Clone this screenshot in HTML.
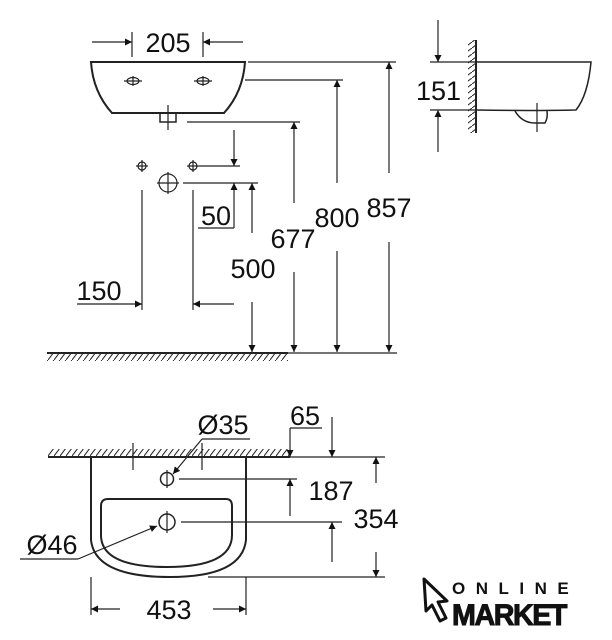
<!DOCTYPE html>
<html><head><meta charset="utf-8"><style>
html,body{margin:0;padding:0;background:#fff;}
svg{display:block;}
text{font-family:"Liberation Sans",sans-serif;fill:#111;}
</style></head><body>
<svg width="612" height="640" viewBox="0 0 612 640" xmlns="http://www.w3.org/2000/svg">
<defs>
<pattern id="hd" width="6" height="8" patternUnits="userSpaceOnUse">
<line x1="0" y1="8" x2="6" y2="0" stroke="#222" stroke-width="1"/>
</pattern>
<pattern id="hv" width="8" height="6" patternUnits="userSpaceOnUse">
<line x1="0" y1="6" x2="8" y2="0" stroke="#222" stroke-width="1"/>
</pattern>
<marker id="a" viewBox="0 0 10 10" refX="10" refY="5" markerWidth="14" markerHeight="7" markerUnits="userSpaceOnUse" orient="auto">
<path d="M0,0 L10,5 L0,10 Z" fill="#111"/>
</marker>
<marker id="b" viewBox="0 0 10 10" refX="10" refY="5" markerWidth="16" markerHeight="7" markerUnits="userSpaceOnUse" orient="auto">
<path d="M0,0 L10,5 L0,10 Z" fill="#111"/>
</marker>
</defs>
<g stroke="#222" stroke-width="1.2" fill="none">
<path d="M91,62 L245,62 Q243,92 224,113 L112,113 Q93,92 91,62 Z" stroke-width="2"/>
<ellipse cx="133" cy="81" rx="6" ry="3.5"/><line x1="124" y1="81" x2="142" y2="81"/><line x1="133" y1="76" x2="133" y2="86"/>
<ellipse cx="203" cy="81" rx="6" ry="3.5"/><line x1="194" y1="81" x2="212" y2="81"/><line x1="203" y1="76" x2="203" y2="86"/>
<rect x="160" y="113" width="16" height="9" stroke-width="1.5"/>
<line x1="168" y1="105" x2="168" y2="130"/>
<line x1="132" y1="32" x2="132" y2="57"/><line x1="203" y1="32" x2="203" y2="57"/>
<line x1="92" y1="42" x2="132" y2="42" marker-end="url(#b)"/>
<line x1="243" y1="42" x2="203" y2="42" marker-end="url(#b)"/>
<line x1="248" y1="62" x2="396" y2="62"/>
<line x1="245" y1="80" x2="343" y2="80"/>
<line x1="187" y1="122" x2="300" y2="122"/>
<line x1="389" y1="173" x2="389" y2="62" marker-end="url(#a)"/>
<line x1="389" y1="242" x2="389" y2="352" marker-end="url(#a)"/>
<line x1="337" y1="183" x2="337" y2="80" marker-end="url(#a)"/>
<line x1="337" y1="251" x2="337" y2="352" marker-end="url(#a)"/>
<line x1="294" y1="203" x2="294" y2="122" marker-end="url(#a)"/>
<line x1="294" y1="272" x2="294" y2="352" marker-end="url(#a)"/>
<line x1="252" y1="233" x2="252" y2="183" marker-end="url(#a)"/>
<line x1="252" y1="302" x2="252" y2="352" marker-end="url(#a)"/>
<circle cx="142" cy="166" r="4"/><line x1="136" y1="166" x2="148" y2="166"/><line x1="142" y1="160" x2="142" y2="172"/>
<circle cx="193" cy="166" r="4"/><line x1="187" y1="166" x2="199" y2="166"/><line x1="193" y1="160" x2="193" y2="172"/>
<circle cx="168" cy="183" r="9"/><line x1="157" y1="183" x2="179" y2="183"/><line x1="168" y1="172" x2="168" y2="194"/>
<line x1="199" y1="166" x2="240" y2="166"/>
<line x1="183" y1="183" x2="258" y2="183"/>
<line x1="234" y1="130" x2="234" y2="166" marker-end="url(#a)"/>
<line x1="234" y1="228" x2="234" y2="183" marker-end="url(#a)"/>
<line x1="198" y1="228" x2="234" y2="228"/>
<line x1="142" y1="190" x2="142" y2="310"/><line x1="193" y1="190" x2="193" y2="310"/>
<line x1="77" y1="304" x2="142" y2="304" marker-end="url(#b)"/>
<line x1="234" y1="304" x2="193" y2="304" marker-end="url(#b)"/>
<line x1="47" y1="353" x2="288" y2="353" stroke-width="2"/>
<line x1="288" y1="353" x2="397" y2="353"/>
<rect x="47" y="354" width="241" height="7" fill="url(#hd)" stroke="none"/>
<line x1="476" y1="40" x2="476" y2="133" stroke-width="2"/>
<rect x="468" y="40" width="8" height="93" fill="url(#hv)" stroke="none"/>
<path d="M476,62 L591,62 Q588,95 576,110 Q530,111 476,110" stroke-width="1.5"/>
<path d="M515,111 Q522,123 535,123 L545,123 Q548,118 547,111" stroke-width="1.5"/>
<line x1="537" y1="103" x2="537" y2="132"/>
<line x1="430" y1="62" x2="476" y2="62"/><line x1="430" y1="110" x2="476" y2="110"/>
<line x1="438" y1="20" x2="438" y2="62" marker-end="url(#a)"/>
<line x1="438" y1="152" x2="438" y2="110" marker-end="url(#a)"/>
<line x1="48" y1="457" x2="290" y2="457" stroke-width="2"/>
<rect x="48" y="449" width="242" height="7" fill="url(#hd)" stroke="none"/>
<line x1="290" y1="457" x2="385" y2="457"/>
<path d="M91,457 L91,540 Q95,577 170,577 Q242,577 246,540 L246,457" stroke-width="2"/>
<path d="M108,499 L226,499 Q232,499 232,506 L232,535 Q232,567 167,567 Q101,567 101,535 L101,506 Q101,499 108,499 Z" stroke-width="2"/>
<line x1="133" y1="443" x2="133" y2="470"/><line x1="202" y1="443" x2="202" y2="470"/>
<circle cx="167" cy="479" r="6.5" stroke-width="1.5"/><line x1="167" y1="470" x2="167" y2="488"/>
<circle cx="167" cy="522" r="8" stroke-width="1.5"/><line x1="167" y1="511" x2="167" y2="533"/>
<line x1="179" y1="479" x2="297" y2="479"/>
<line x1="181" y1="522" x2="342" y2="522"/>
<line x1="208" y1="577" x2="385" y2="577"/>
<line x1="250" y1="439" x2="202" y2="439"/><line x1="202" y1="439" x2="173" y2="474" marker-end="url(#a)"/>
<line x1="20" y1="559" x2="78" y2="559"/><line x1="78" y1="559" x2="157" y2="526" marker-end="url(#a)"/>
<line x1="290" y1="428" x2="322" y2="428"/>
<line x1="290" y1="428" x2="290" y2="457" marker-end="url(#a)"/>
<line x1="332" y1="417" x2="332" y2="457" marker-end="url(#a)"/>
<line x1="290" y1="516" x2="290" y2="479" marker-end="url(#a)"/>
<line x1="332" y1="562" x2="332" y2="522" marker-end="url(#a)"/>
<line x1="376" y1="483" x2="376" y2="457" marker-end="url(#a)"/>
<line x1="376" y1="552" x2="376" y2="577" marker-end="url(#a)"/>
<line x1="91" y1="577" x2="91" y2="615"/><line x1="246" y1="577" x2="246" y2="615"/>
<line x1="120" y1="609" x2="91" y2="609" marker-end="url(#b)"/>
<line x1="213" y1="609" x2="246" y2="609" marker-end="url(#b)"/>
<path d="M424,579 L447,601 L438,602 L446,618 L440,621 L432,605 L426,611 Z" stroke="#111" stroke-width="3" stroke-linejoin="round"/>
</g>
<g font-size="27">
<text x="168" y="52" text-anchor="middle">205</text>
<text x="416" y="100">151</text>
<text x="389" y="217" text-anchor="middle">857</text>
<text x="337" y="227" text-anchor="middle">800</text>
<text x="293" y="248" text-anchor="middle">677</text>
<text x="253" y="278" text-anchor="middle">500</text>
<text x="216" y="225" text-anchor="middle">50</text>
<text x="99" y="300" text-anchor="middle">150</text>
<text x="223" y="434" text-anchor="middle">Ø35</text>
<text x="305" y="425" text-anchor="middle">65</text>
<text x="331" y="500" text-anchor="middle">187</text>
<text x="376" y="528" text-anchor="middle">354</text>
<text x="52" y="554" text-anchor="middle">Ø46</text>
<text x="169" y="619" text-anchor="middle">453</text>
</g>
<text x="452" y="594" font-size="17" font-weight="bold" letter-spacing="10.5">ONLINE</text>
<text x="452" y="625" font-size="30" font-weight="bold" letter-spacing="-1.5" textLength="114" lengthAdjust="spacingAndGlyphs" stroke="#111" stroke-width="1">MARKET</text>
</svg>
</body></html>
